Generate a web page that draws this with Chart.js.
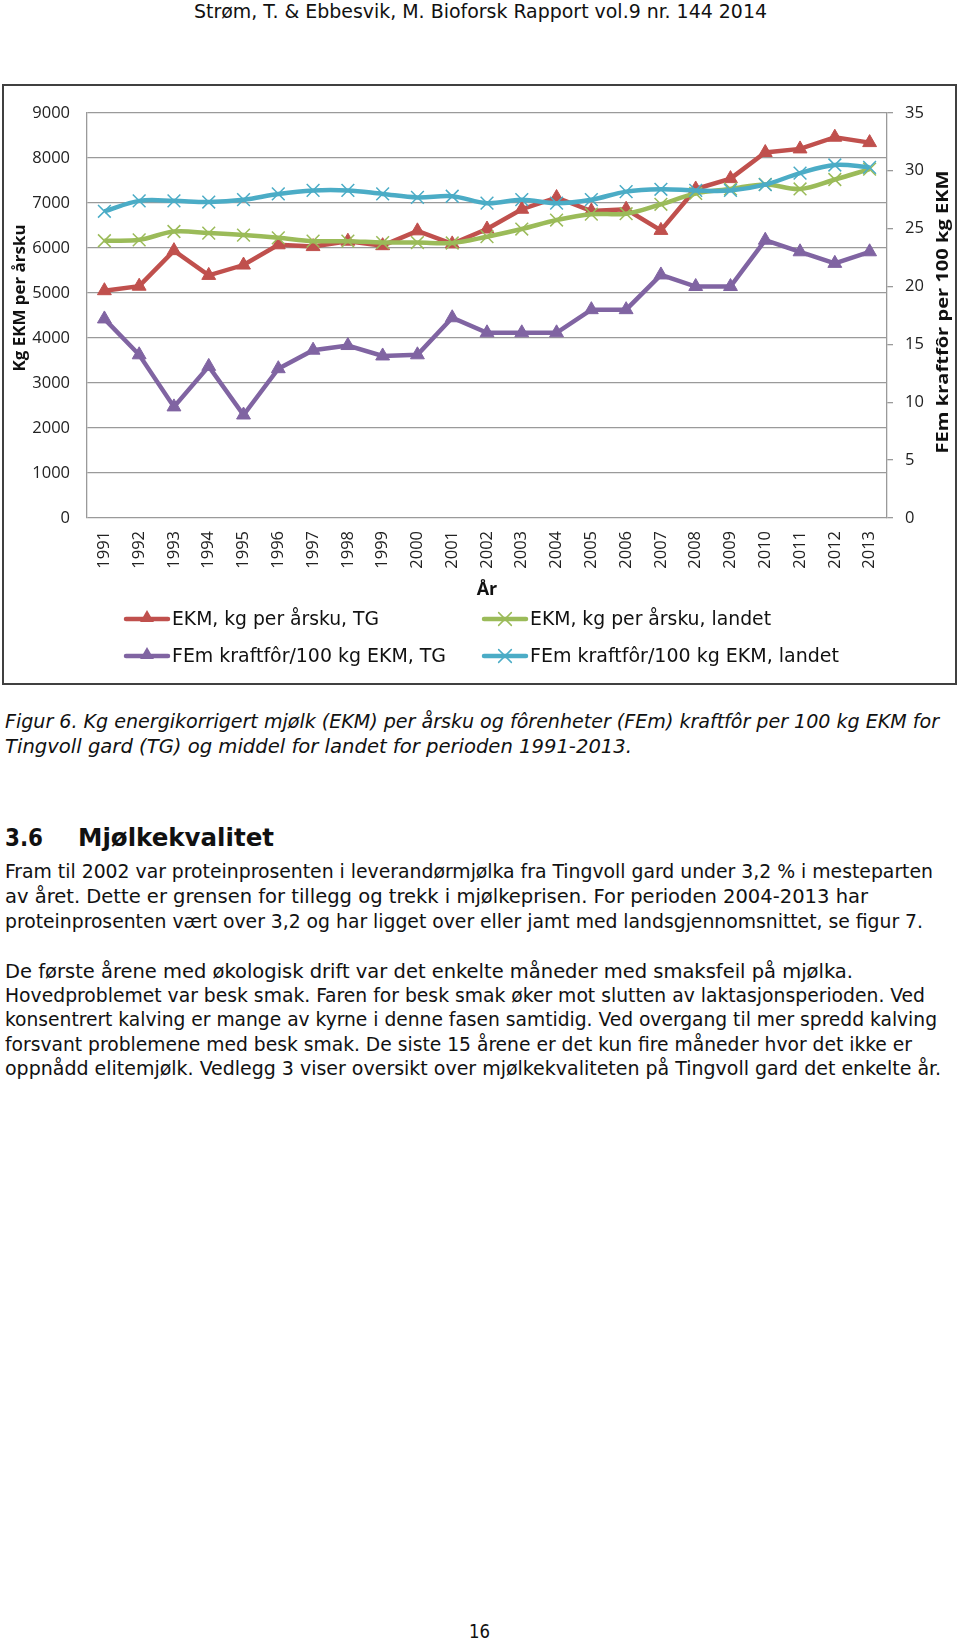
<!DOCTYPE html>
<html>
<head>
<meta charset="utf-8">
<script src="https://cdn.jsdelivr.net/npm/chart.js@4.4.0/dist/chart.umd.min.js"></script>
<style>
  body { margin:0; background:#fff; width:960px; height:1642px; position:relative; overflow:hidden;
         font-family:"DejaVu Sans Condensed","DejaVu Sans",sans-serif; color:#111; }
  .t { position:absolute; white-space:nowrap; font-size:20px; line-height:1; transform-origin:0 50%; }
  .i { font-style:italic; }
  .h { font-weight:bold; font-size:24px; }
  #box { position:absolute; left:2px; top:84px; width:951px; height:597px; border:2px solid #404040; }
</style>
</head>
<body>

<div class="t" style="left:194px;top:2px;font-size:19px" data-w="573">Strøm, T. &amp; Ebbesvik, M. Bioforsk Rapport vol.9 nr. 144 2014</div>

<div id="box"><canvas id="c" width="951" height="597"></canvas></div>

<div class="t i" style="left:5px;top:711px" data-w="934">Figur 6. Kg energikorrigert mjølk (EKM) per årsku og fôrenheter (FEm) kraftfôr per 100 kg EKM for</div>
<div class="t i" style="left:5px;top:736px" data-w="627">Tingvoll gard (TG) og middel for landet for perioden 1991-2013.</div>

<div class="t h" style="left:5px;top:826px" data-w="38">3.6</div>
<div class="t h" style="left:78px;top:826px" data-w="196">Mjølkekvalitet</div>

<div class="t" style="left:5px;top:861px" data-w="928">Fram til 2002 var proteinprosenten i leverandørmjølka fra Tingvoll gard under 3,2 % i mesteparten</div>
<div class="t" style="left:5px;top:886px" data-w="863">av året. Dette er grensen for tillegg og trekk i mjølkeprisen. For perioden 2004-2013 har</div>
<div class="t" style="left:5px;top:911px" data-w="918">proteinprosenten vært over 3,2 og har ligget over eller jamt med landsgjennomsnittet, se figur 7.</div>

<div class="t" style="left:5px;top:961px" data-w="848">De første årene med økologisk drift var det enkelte måneder med smaksfeil på mjølka.</div>
<div class="t" style="left:5px;top:985px" data-w="920">Hovedproblemet var besk smak. Faren for besk smak øker mot slutten av laktasjonsperioden. Ved</div>
<div class="t" style="left:5px;top:1009px" data-w="932">konsentrert kalving er mange av kyrne i denne fasen samtidig. Ved overgang til mer spredd kalving</div>
<div class="t" style="left:5px;top:1034px" data-w="907">forsvant problemene med besk smak. De siste 15 årene er det kun fire måneder hvor det ikke er</div>
<div class="t" style="left:5px;top:1058px" data-w="936">oppnådd elitemjølk. Vedlegg 3 viser oversikt over mjølkekvaliteten på Tingvoll gard det enkelte år.</div>

<div class="t" style="left:469px;top:1621px" data-w="21">16</div>

<script>
// ======== Data ========
const years = ['1991','1992','1993','1994','1995','1996','1997','1998','1999','2000','2001','2002',
               '2003','2004','2005','2006','2007','2008','2009','2010','2011','2012','2013'];

// kg EKM per årsku (left axis)
const ekmTG     = [5050, 5150, 5940, 5390, 5620, 6070, 6030, 6150, 6050, 6380, 6090, 6420,
                   6860, 7120, 6820, 6860, 6390, 7310, 7540, 8120, 8200, 8460, 8340];
const ekmLandet = [6160, 6180, 6365, 6330, 6285, 6225, 6150, 6150, 6120, 6120, 6110, 6250,
                   6420, 6620, 6750, 6760, 6970, 7210, 7310, 7410, 7310, 7520, 7750];

// FEm kraftfôr per 100 kg EKM (right axis)
const femTG     = [17.2, 14.1, 9.6, 13.1, 8.9, 12.9, 14.5, 14.9, 14.0, 14.1, 17.3, 16,
                   16, 16, 18, 18, 21, 20, 20, 24, 23, 22, 23];
const femLandet = [26.5, 27.4, 27.4, 27.3, 27.5, 28.0, 28.3, 28.3, 28.0, 27.7, 27.8, 27.2,
                   27.5, 27.2, 27.5, 28.2, 28.4, 28.3, 28.3, 28.8, 29.8, 30.5, 30.3];

const seriesNames = ['EKM, kg per årsku, TG', 'EKM, kg per årsku, landet',
                     'FEm kraftfôr/100 kg EKM, TG', 'FEm kraftfôr/100 kg EKM, landet'];
const leftTitle = 'Kg EKM per årsku';
const rightTitle = 'FEm kraftfôr per 100 kg EKM';
const xTitle = 'År';

const RED = '#C0504D', GREEN = '#9BBB59', PURPLE = '#8064A2', BLUE = '#4BACC6';
const GRID = '#9a9a9a';
const tickFont = { family: 'Open Sans', size: 16.5 };

// ======== text fitting (page text) ========
document.querySelectorAll('.t[data-w]').forEach(el => {
  const w = el.getBoundingClientRect().width;
  el.style.transform = 'scaleX(' + (Number(el.dataset.w) / w) + ')';
});

// ======== helpers for legend markers ========
function triangle(ctx, x, y, r, color){
  ctx.beginPath();
  for (let k = 0; k < 3; k++) {
    const a = k * 2 * Math.PI / 3;
    const px = x + Math.sin(a) * r, py = y - Math.cos(a) * r;
    k ? ctx.lineTo(px, py) : ctx.moveTo(px, py);
  }
  ctx.closePath();
  ctx.fillStyle = color; ctx.fill();
}
function cross(ctx, x, y, r, color){
  const d = r * Math.SQRT1_2;
  ctx.beginPath();
  ctx.moveTo(x - d, y - d); ctx.lineTo(x + d, y + d);
  ctx.moveTo(x + d, y - d); ctx.lineTo(x - d, y + d);
  ctx.strokeStyle = color; ctx.lineWidth = 1.5; ctx.stroke();
}
function fitText(ctx, txt, x, y, w){
  const s = w / ctx.measureText(txt).width;
  ctx.save(); ctx.translate(x, y); ctx.scale(s, 1); ctx.fillText(txt, 0, 0); ctx.restore();
}
function vertText(ctx, txt, x, y, len){
  ctx.save(); ctx.translate(x, y); ctx.rotate(-Math.PI / 2);
  const s = len / ctx.measureText(txt).width;
  ctx.scale(s, 1); ctx.fillText(txt, 0, 0);
  ctx.restore();
}

// ======== titles + legend plugin ========
const extras = {
  id: 'extras',
  afterDraw(chart){
    const ctx = chart.ctx;
    ctx.save();
    ctx.fillStyle = '#111';
    ctx.textAlign = 'center';
    ctx.textBaseline = 'middle';
    ctx.font = 'bold 16.5px "Open Sans"';
    vertText(ctx, leftTitle, 16, 212, 147);
    vertText(ctx, rightTitle, 939, 226, 283);
    ctx.font = 'bold 18px "Open Sans"';
    ctx.fillText(xTitle, 483, 504);

    // legend: two columns, two rows
    const items = [
      { ds: 0, x: 122, y: 533, w: 207 },
      { ds: 1, x: 480, y: 533, w: 241 },
      { ds: 2, x: 122, y: 570, w: 274 },
      { ds: 3, x: 480, y: 570, w: 309 }
    ];
    ctx.font = '20px "DejaVu Sans Condensed", "DejaVu Sans"';
    ctx.textAlign = 'left';
    items.forEach(it => {
      const d = chart.data.datasets[it.ds];
      ctx.beginPath();
      ctx.moveTo(it.x, it.y); ctx.lineTo(it.x + 42, it.y);
      ctx.strokeStyle = d.borderColor; ctx.lineWidth = 4.5; ctx.lineCap = 'round'; ctx.stroke();
      if (d.pointStyle === 'triangle') triangle(ctx, it.x + 21, it.y - 1, 8, d.borderColor);
      else cross(ctx, it.x + 21, it.y, 9, d.borderColor);
      ctx.fillStyle = '#111';
      fitText(ctx, seriesNames[it.ds], it.x + 46, it.y + 1, it.w);
    });
    ctx.restore();
  }
};

// ======== Chart ========
const ctx = document.getElementById('c').getContext('2d');
new Chart(ctx, {
  type: 'line',
  data: {
    labels: years,
    datasets: [
      { label: seriesNames[0], data: ekmTG, yAxisID: 'y', order: 3,
        borderColor: RED, backgroundColor: RED, borderWidth: 4.5, tension: 0,
        pointStyle: 'triangle', pointRadius: 8, pointBorderWidth: 1,
        pointBackgroundColor: RED, pointBorderColor: RED },
      { label: seriesNames[1], data: ekmLandet, yAxisID: 'y', order: 2,
        borderColor: GREEN, backgroundColor: GREEN, borderWidth: 4.5, tension: 0.35,
        pointStyle: 'crossRot', pointRadius: 9, pointBorderWidth: 1.5, pointBorderColor: GREEN },
      { label: seriesNames[2], data: femTG, yAxisID: 'y1', order: 1,
        borderColor: PURPLE, backgroundColor: PURPLE, borderWidth: 4.5, tension: 0,
        pointStyle: 'triangle', pointRadius: 8, pointBorderWidth: 1,
        pointBackgroundColor: PURPLE, pointBorderColor: PURPLE },
      { label: seriesNames[3], data: femLandet, yAxisID: 'y1', order: 0,
        borderColor: BLUE, backgroundColor: BLUE, borderWidth: 4.5, tension: 0.35,
        pointStyle: 'crossRot', pointRadius: 9, pointBorderWidth: 1.5, pointBorderColor: BLUE }
    ]
  },
  options: {
    responsive: false,
    devicePixelRatio: 1,
    animation: false,
    layout: { padding: { top: 23, bottom: 105, left: 0, right: 0 } },
    plugins: { legend: { display: false }, tooltip: { enabled: false } },
    scales: {
      x: {
        offset: true,
        grid: { display: false },
        border: { display: false },
        ticks: { autoSkip: false, minRotation: 90, maxRotation: 90, padding: 5, color: '#222', font: tickFont },
        afterFit(s){ s.height = 60; }
      },
      y: {
        position: 'left', min: 0, max: 9000,
        ticks: { stepSize: 1000, padding: 17, color: '#222', font: tickFont, callback: v => String(v) },
        grid: { color: GRID, lineWidth: 1.3, drawTicks: false },
        border: { display: true, color: GRID, width: 1.3 },
        afterFit(s){ s.width = 83; }
      },
      y1: {
        position: 'right', min: 0, max: 35,
        ticks: { stepSize: 5, padding: 12, color: '#222', font: tickFont, callback: v => String(v) },
        grid: { drawOnChartArea: false, drawTicks: true, tickLength: 6, color: GRID, lineWidth: 1.3 },
        border: { display: true, color: GRID, width: 1.3 },
        afterFit(s){ s.width = 68; }
      }
    }
  },
  plugins: [extras]
});
</script>
</body>
</html>
